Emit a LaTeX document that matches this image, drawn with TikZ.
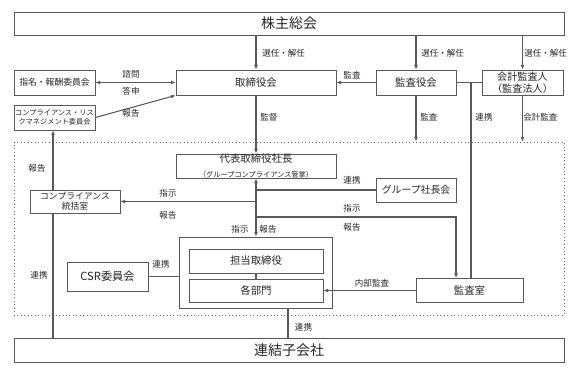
\documentclass[tikz,border=0pt]{standalone}
\usepackage{fontspec}
\setmainfont{Noto Sans CJK JP}
\usetikzlibrary{arrows.meta}
\begin{document}
\begin{tikzpicture}[x=0.75pt,y=-0.75pt,
  box/.style={draw=black!65, line width=0.6pt, fill=white, inner sep=0pt, align=center, text=black!85},
  wh/.style 2 args={minimum width=#1*0.75pt, minimum height=#2*0.75pt},
  ln/.style={draw=black!65, line width=0.8pt},
  arr/.style={ln, -{Latex[length=3.5pt,width=3pt]}},
  lbl/.style={font=\fontsize{6.4}{7}\selectfont, inner sep=0pt, text=black!85},
  big/.style={font=\fontsize{10.5}{12}\selectfont},
  mid/.style={font=\fontsize{7.8}{9}\selectfont},
  ]
\useasboundingbox (0,0) rectangle (577,374);
% group frame
\node[draw=black!60, dotted, line width=0.6pt, inner sep=0pt, wh={550}{173}] (frame) at (289,228.5) {};
% nodes
\node[box, big, wh={550}{23}] (sh) at (289,23.5) {株主総会};
\node[box, font=\fontsize{6.6}{8}\selectfont, wh={81}{25}] (nom) at (54.5,82.5) {指名・報酬委員会};
\node[box, mid, wh={160}{25}] (board) at (256,82.5) {取締役会};
\node[box, font=\fontsize{5.4}{7}\selectfont, wh={81}{25}] (crm) at (54.5,117.5) {コンプライアンス・リス\\クマネジメント委員会};
\node[box, mid, wh={80}{25}] (kansa) at (416,82.5) {監査役会};
\node[box, font=\fontsize{7.6}{8.6}\selectfont, wh={81}{25}] (acct) at (522.5,82.5) {会計監査人\\（監査法人）};
\node[box, wh={160}{24}] (ceo) at (256,166) {{\fontsize{7.8}{8.6}\selectfont 代表取締役社長}\\[-1pt]{\fontsize{5.4}{6.2}\selectfont （グループコンプライアンス管掌）}};
\node[box, font=\fontsize{7.4}{9}\selectfont, wh={80}{24}] (grp) at (416,190) {グループ社長会};
\node[box, font=\fontsize{6.6}{7.6}\selectfont, wh={90}{23}] (comp) at (75,201.5) {コンプライアンス\\統括室};
\node[box, wh={153}{71}] (outer) at (256,272.5) {};
\node[box, mid, wh={134}{24}] (tanto) at (256,261) {担当取締役};
\node[box, mid, wh={134}{23}] (bumon) at (256,290.5) {各部門};
\node[box, font=\fontsize{8.4}{10}\selectfont, wh={81}{29}] (csr) at (107.5,276.5) {CSR委員会};
\node[box, mid, wh={107}{24}] (audit) at (469.5,290.5) {監査室};
\node[box, big, wh={550}{24}] (sub) at (289,350) {連結子会社};
% helper coordinates
\coordinate (J) at (471,82.5);
\coordinate (T) at (456,217);
\coordinate (L) at (53,0);
\coordinate (M) at (288,0);
% connectors
\draw[arr] (board |- sh.south) -- (board.north);
\draw[arr] (kansa |- sh.south) -- (kansa.north);
\draw[arr] (acct |- sh.south) -- (acct.north);
\draw[ln, {Latex[length=3.5pt,width=3pt]}-{Latex[length=3.5pt,width=3pt]}] (nom.east) -- (board.west);
\draw[arr] (crm.east) -- (board.south west);
\draw[arr] (kansa.west) -- (board.east);
\draw[arr] (board.south) -- (ceo.north);
\draw[arr] (kansa.south) -- (kansa |- frame.north);
\draw[arr] (acct.south) -- (acct |- frame.north);
\draw[ln] (kansa.east) -- (acct.west);
\draw[ln] (J) -- (J |- audit.north);
\draw[ln, {Latex[length=3.5pt,width=3pt]}-{Latex[length=3.5pt,width=3pt]}] (ceo.south) -- (outer.north);
\draw[ln] (grp.west) -- (grp.west -| ceo.south);
\draw[arr] (comp.east -| ceo.south) -- (comp.east);
\draw[arr] (ceo.south |- T) -- (T) -- (T |- audit.north);
\draw[ln] (sub.north -| L) -- (comp.south -| L);
\draw[arr] (comp.north -| L) -- (crm.south -| L);
\draw[ln] (csr.east) -- (csr.east -| outer.west);
\draw[arr] (audit.west) -- (bumon.east);
\draw[ln] (tanto.south) -- (bumon.north);
\draw[ln] (sub.north -| M) -- (outer.south -| M);
% labels
\node[lbl, anchor=west] (l1) at (262,53) {選任・解任};
\node[lbl, anchor=west] (l2) at (421,53) {選任・解任};
\node[lbl, anchor=west] (l3) at (524,53) {選任・解任};
\node[lbl] (l4) at (131,74) {諮問};
\node[lbl] (l5) at (131,91) {答申};
\node[lbl] (l6) at (131,113) {報告};
\node[lbl] (l7) at (352,75) {監査};
\node[lbl, anchor=west] (l8) at (260,117) {監督};
\node[lbl, anchor=west] (l9) at (420,117) {監査};
\node[lbl] (l10) at (484,117) {連携};
\node[lbl, anchor=west] (l11) at (523,117) {会計監査};
\node[lbl] (l12) at (352,180) {連携};
\node[lbl] (l13) at (168,193) {指示};
\node[lbl] (l14) at (168,215) {報告};
\node[lbl] (l15) at (352,208) {指示};
\node[lbl] (l16) at (352,227) {報告};
\node[lbl] (l17) at (240,229) {指示};
\node[lbl] (l18) at (268,229) {報告};
\node[lbl] (l19) at (37,168) {報告};
\node[lbl] (l20) at (39,275) {連携};
\node[lbl] (l21) at (161,264) {連携};
\node[lbl] (l22) at (372,283) {内部監査};
\node[lbl] (l23) at (303.5,327) {連携};
\end{tikzpicture}
\end{document}
